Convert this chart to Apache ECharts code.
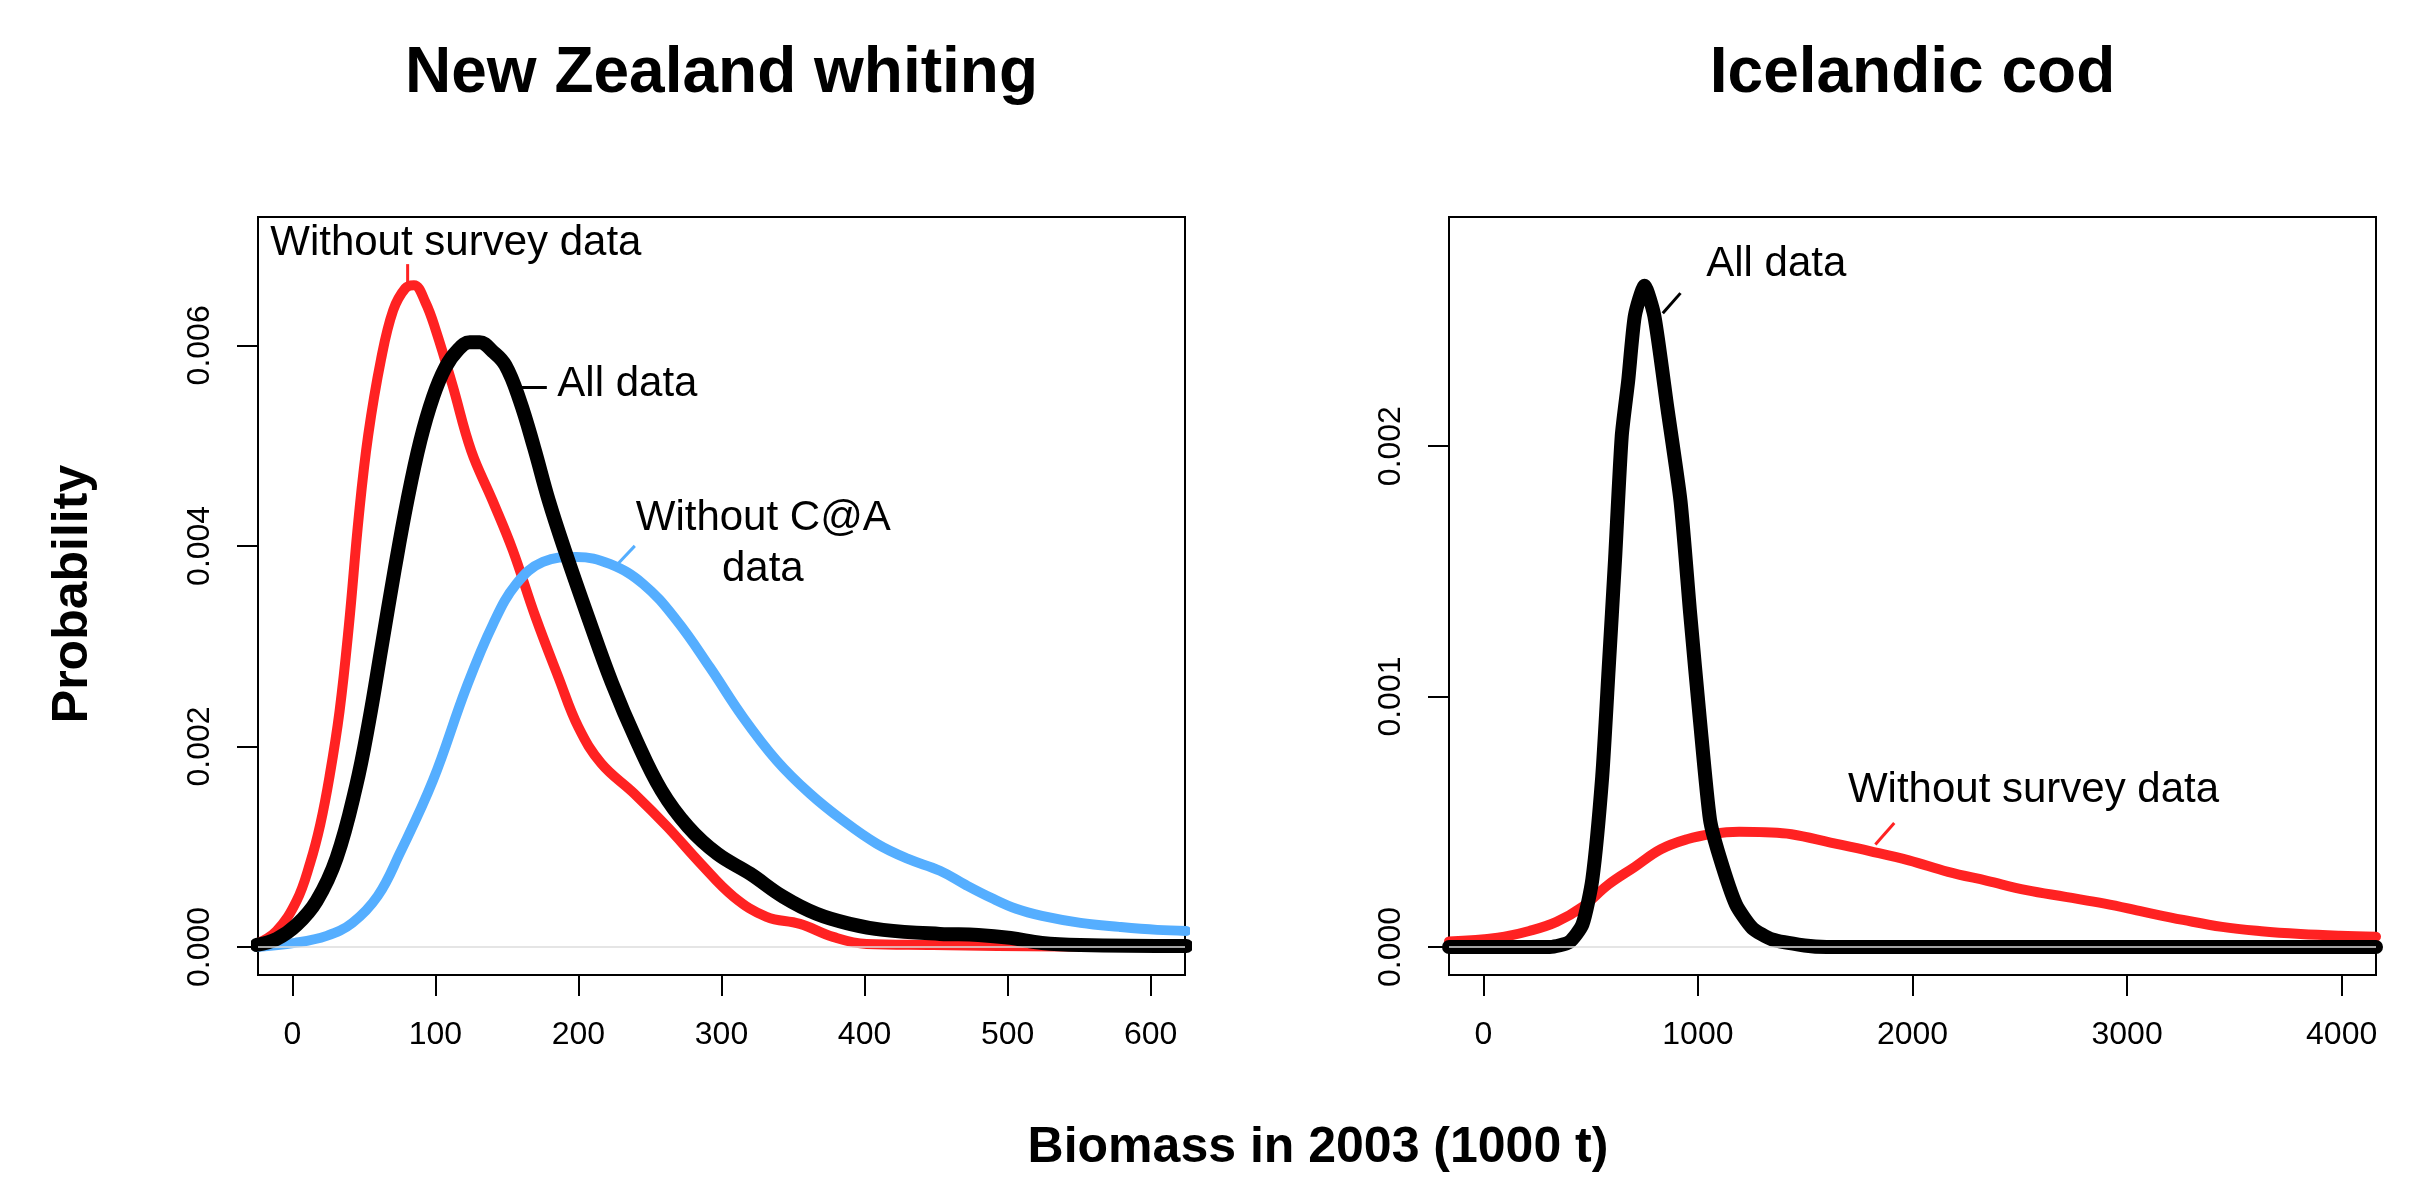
<!DOCTYPE html>
<html><head><meta charset="utf-8">
<script src="https://cdn.jsdelivr.net/npm/echarts@6.0.0/dist/echarts.min.js"></script>
<style>html,body{margin:0;padding:0;background:#fff}#c{width:2423px;height:1181px}</style>
</head><body><div id="c"></div>
<script>
// ---- data ----
const nzXTicks = [0, 100, 200, 300, 400, 500, 600];
const nzYTicks = [0, 0.002, 0.004, 0.006];
const icXTicks = [0, 1000, 2000, 3000, 4000];
const icYTicks = [0, 0.001, 0.002];

// New Zealand whiting: Without survey data (red)
const nzNoSurvey = [[-25,0.00003],[-11,0.00016],[3,0.00046],[12.5,0.00084],[19.5,0.00122],[26,0.0017],[33,0.00235],[39.5,0.0032],[46.5,0.0043],[53,0.0051],[62,0.00586],[70.5,0.00635],[79,0.00657],[85,0.0066],[93,0.00643],[100.5,0.00614],[112,0.0056],[125,0.00495],[140,0.00445],[154,0.00396],[170,0.00329],[186,0.00269],[200,0.00219],[216,0.00183],[239,0.00153],[262,0.0012],[285.5,0.00083],[308.5,0.0005],[331.5,0.0003],[354.8,0.00023],[378,0.0001],[401.4,0.00003],[448,0.00002],[493,0.00001],[537,0.000005],[625,0]];
// New Zealand whiting: All data (black)
const nzAll = [[-25,0.00002],[-11,0.00008],[3,0.00022],[17,0.00046],[31,0.00089],[44.5,0.0016],[53.5,0.00224],[62.5,0.003],[71.5,0.00376],[80.5,0.00446],[89.5,0.00505],[98.5,0.00549],[107,0.00578],[115.5,0.00595],[124,0.00603],[131,0.00603],[140,0.00594],[149,0.0058],[159,0.00545],[169,0.00498],[179.3,0.00445],[190.4,0.00396],[206.7,0.00329],[223.5,0.00263],[240.5,0.00206],[258,0.00156],[276.5,0.0012],[297,0.00093],[320,0.00073],[343.1,0.0005],[366.4,0.00033],[389.7,0.00023],[413,0.00017],[452.7,0.00013],[479.5,0.00012],[502,0.00009],[524,0.00004],[551,0.00002],[625,0.00001]];
// New Zealand whiting: Without C@A data (blue)
const nzNoCaA = [[-25,0],[1.8,0.00004],[24,0.00011],[42,0.00024],[59.8,0.00051],[75,0.00093],[98.3,0.00166],[121.7,0.00259],[140.3,0.00322],[156.6,0.00362],[175.2,0.00384],[198.6,0.00389],[221.9,0.00382],[245.2,0.00362],[268.5,0.00326],[291.8,0.00279],[315.1,0.00229],[338.5,0.00186],[361.7,0.00153],[385,0.00126],[408.4,0.00103],[430,0.00088],[452.7,0.00076],[470.5,0.00062],[488.4,0.00049],[506,0.00038],[524,0.00031],[551,0.00024],[578,0.0002],[604.5,0.00017],[625,0.00016]];

// Icelandic cod: All data (black)
const icAll = [[-160,0],[310,0],[401,0.00002],[462,0.00009],[508,0.00027],[554,0.00068],[584,0.00111],[614,0.00155],[645,0.00204],[675,0.00226],[706,0.00252],[751,0.00264],[797,0.00252],[858,0.00215],[919,0.00178],[964,0.00133],[1010,0.0009],[1056,0.00051],[1101,0.00036],[1177,0.00017],[1253,0.000076],[1345,0.00003],[1497,0.000006],[1600,0],[4160,0]];
// Icelandic cod: Without survey data (red)
const icNoSurvey = [[-160,0.000022],[67,0.000037],[219,0.000065],[341,0.0001],[462,0.00016],[584,0.00025],[706,0.00032],[827,0.00039],[949,0.00043],[1071,0.000452],[1192,0.00046],[1314,0.000458],[1436,0.00045],[1618,0.000417],[1801,0.000383],[1983,0.000346],[2166,0.0003],[2348,0.000264],[2531,0.000227],[2713,0.0002],[2896,0.000173],[3078,0.00014],[3261,0.000108],[3443,0.00008],[3626,0.000063],[3808,0.000052],[3991,0.000045],[4160,0.000041]];

// annotation labels: [grid, text, x, y] and leader segments: [grid, color, x1, y1, x2, y2]
const labels = [
  [0, 'Without survey data', 114.3, 0.00702],
  [0, 'All data', 234.2, 0.00561],
  [0, 'Without C@A', 329.2, 0.004275],
  [0, 'data', 328.9, 0.003766],
  [1, 'All data', 1365, 0.002726],
  [1, 'Without survey data', 2564, 0.000626]
];
const leaders = [
  [0, '#FF2222', 80.6, 0.00681, 80.6, 0.00662],
  [0, '#000000', 154, 0.00558, 177.9, 0.00558],
  [0, '#55AEFF', 239.4, 0.0040, 226.8, 0.00381],
  [1, '#000000', 918.8, 0.002611, 836.2, 0.002531],
  [1, '#FF2222', 1915, 0.000495, 1827, 0.000409]
];

const RED = '#FF2222', BLUE = '#55AEFF', BLACK = '#000000';
const FONT = 'Liberation Sans, Arial, Helvetica, sans-serif';

const chart = echarts.init(document.getElementById('c'), null, {renderer: 'canvas'});

function xAx(gi, min, max, ticks) {
  return {
    type: 'value', gridIndex: gi, min: min, max: max, position: 'bottom',
    axisLine: {show: false, onZero: false}, splitLine: {show: false},
    axisTick: {show: true, inside: false, length: 21, customValues: ticks, lineStyle: {color: '#000', width: 2}},
    axisLabel: {customValues: ticks, fontSize: 32, fontFamily: FONT, color: '#000', margin: 44,
      formatter: function (v) { return String(v); }}
  };
}
function yAx(gi, min, max, ticks) {
  return {
    type: 'value', gridIndex: gi, min: min, max: max, position: 'left',
    axisLine: {show: false, onZero: false}, splitLine: {show: false},
    axisTick: {show: true, inside: false, length: 21, customValues: ticks, lineStyle: {color: '#000', width: 2}},
    axisLabel: {customValues: ticks, fontSize: 32, fontFamily: FONT, color: '#000', margin: 42, rotate: 90,
      formatter: function (v) { return v.toFixed(3); }}
  };
}
function curve(name, xi, data, color, width, z, smooth) {
  return {
    type: 'line', name: name, xAxisIndex: xi, yAxisIndex: xi, data: data,
    showSymbol: false, symbol: 'none', smooth: smooth, z: z, silent: true,
    lineStyle: {color: color, width: width, cap: 'round', join: 'round'}
  };
}
function zeroLine(xi) {
  return {
    type: 'line', xAxisIndex: xi, yAxisIndex: xi, data: [], z: 1, silent: true,
    markLine: {silent: true, symbol: 'none', label: {show: false},
      lineStyle: {color: '#dcdcdc', width: 1.5, type: 'solid'}, data: [{yAxis: 0}]}
  };
}

chart.setOption({
  animation: false,
  backgroundColor: '#ffffff',
  grid: [
    {left: 258, top: 217, width: 927, height: 758, show: true, borderColor: '#000', borderWidth: 2, backgroundColor: 'transparent'},
    {left: 1449, top: 217, width: 927, height: 758, show: true, borderColor: '#000', borderWidth: 2, backgroundColor: 'transparent'}
  ],
  xAxis: [xAx(0, -24, 624, nzXTicks), xAx(1, -160, 4160, icXTicks)],
  yAxis: [yAx(0, -0.00028, 0.00728, nzYTicks), yAx(1, -0.000112, 0.002915, icYTicks)],
  series: [
    zeroLine(0), zeroLine(1),
    curve('Without survey data', 0, nzNoSurvey, RED, 10, 2, 0.4),
    curve('Without C@A data', 0, nzNoCaA, BLUE, 10, 3, 0.4),
    curve('All data', 0, nzAll, BLACK, 14, 4, 0.4),
    curve('Without survey data', 1, icNoSurvey, RED, 10, 2, 0.4),
    curve('All data', 1, icAll, BLACK, 14, 4, 0.2)
  ]
});

const g = [];
function txt(x, y, s, size, bold, rot) {
  g.push({type: 'text', x: x, y: y, rotation: rot || 0, z: 10,
    style: {text: s, fill: '#000', font: (bold ? 'bold ' : '') + size + 'px ' + FONT, textAlign: 'center', textVerticalAlign: 'middle'}});
}
txt(721.5, 74, 'New Zealand whiting', 64, true);
txt(1912.5, 74, 'Icelandic cod', 64, true);
txt(1318, 1148, 'Biomass in 2003 (1000 t)', 50, true);
txt(73, 594, 'Probability', 50, true, Math.PI / 2);
labels.forEach(function (l) {
  const p = chart.convertToPixel({gridIndex: l[0]}, [l[2], l[3]]);
  txt(p[0], p[1], l[1], 42, false);
});
leaders.forEach(function (s) {
  const a = chart.convertToPixel({gridIndex: s[0]}, [s[2], s[3]]);
  const b = chart.convertToPixel({gridIndex: s[0]}, [s[4], s[5]]);
  g.push({type: 'line', z: 10, shape: {x1: a[0], y1: a[1], x2: b[0], y2: b[1]}, style: {stroke: s[1], lineWidth: 3}});
});
chart.setOption({graphic: g});
</script></body></html>
